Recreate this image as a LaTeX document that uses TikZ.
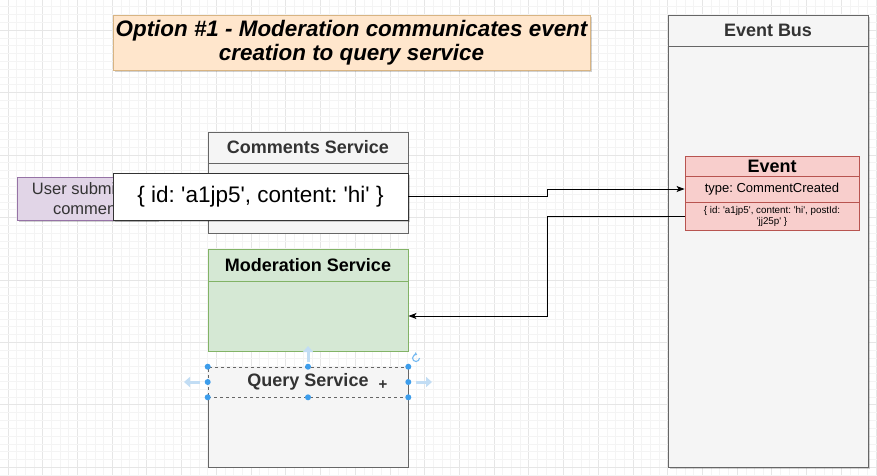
\documentclass[tikz,border=0pt]{standalone}
\usepackage{fontspec}
\setmainfont{Liberation Sans}[Ligatures=TeXOff]
\usetikzlibrary{arrows.meta,shadows,calc}
\definecolor{gridmin}{HTML}{F4F4F4}
\definecolor{gridmaj}{HTML}{E6E6E6}
\definecolor{grayfill}{HTML}{F5F5F5}
\definecolor{graydraw}{HTML}{666666}
\definecolor{graytext}{HTML}{333333}
\definecolor{greenfill}{HTML}{D5E8D4}
\definecolor{greendraw}{HTML}{82B366}
\definecolor{redfill}{HTML}{F8CECC}
\definecolor{reddraw}{HTML}{B85450}
\definecolor{purplefill}{HTML}{E1D5E7}
\definecolor{purpledraw}{HTML}{9673A6}
\definecolor{orangefill}{HTML}{FFE6CC}
\definecolor{orangedraw}{HTML}{D8B482}
\definecolor{handleblue}{HTML}{3D9DEB}
\definecolor{hintblue}{HTML}{C2DDF4}
\frenchspacing
\tikzset{
  box/.style={draw, rectangle, inner sep=0pt, line width=0.9pt},
  graybox/.style={box, fill=grayfill, draw=graydraw},
  greenbox/.style={box, fill=greenfill, draw=greendraw},
  redbox/.style={box, fill=redfill, draw=reddraw},
  hdr/.style={font=\fontsize{18}{20}\selectfont\bfseries},
  shade/.style={drop shadow={shadow xshift=2pt, shadow yshift=-2pt, fill=black, opacity=0.18}},
  conn/.style={draw=black, line width=0.9pt, -{Stealth[length=8pt,width=6pt,inset=2pt]}},
  handle/.style={fill=handleblue, draw=none, circle, inner sep=0pt, minimum size=6pt},
  hint/.style={draw=hintblue, line width=3pt, -{Triangle[length=6pt,width=10pt]}}
}
\begin{document}
\begin{tikzpicture}[x=1pt,y=-1pt]
\useasboundingbox (0,0) rectangle (877,475);
\fill[white] (0,0) rectangle (877,475);
% grid
\foreach \i in {0,...,101}{
  \pgfmathsetmacro\xx{8+8.68*\i}
  \pgfmathtruncatemacro\m{mod(\i,4)}
  \ifnum\m=0 \draw[gridmaj, line width=0.8pt] (\xx,0) -- (\xx,475);
  \else \draw[gridmin, line width=0.6pt] (\xx,0) -- (\xx,475); \fi
}
\foreach \j in {0,...,61}{
  \pgfmathsetmacro\yy{-1.24+7.81*\j}
  \pgfmathtruncatemacro\m{mod(\j+4,8)}
  \ifnum\m=0 \draw[gridmaj, line width=0.8pt] (0,\yy) -- (877,\yy);
  \else \draw[gridmin, line width=0.6pt] (0,\yy) -- (877,\yy); \fi
}

% title
\node[box, shade, fill=orangefill, draw=orangedraw, minimum width=477pt, minimum height=55pt,
  align=center, font=\fontsize{22.4}{24}\selectfont\bfseries\itshape] (title) at (351.5,42.5)
  {Option \#1 - Moderation communicates event\\creation to query service};

% event bus
\node[graybox, shade, minimum width=200pt, minimum height=452pt] (bus) at (768,241) {};
\node[graybox, minimum width=200pt, minimum height=31pt, hdr, text=graytext] (bushead) at (768,30.5) {Event Bus};

% event
\node[redbox, minimum width=174pt, minimum height=20pt, hdr] (evhead) at (772,166) {Event};
\node[redbox, minimum width=174pt, minimum height=26pt, font=\fontsize{13}{15}\selectfont] (evtype) at (772,189) {type: CommentCreated};
\node[redbox, minimum width=174pt, minimum height=28pt, align=center, font=\fontsize{9.8}{11}\selectfont] (evdata) at (772,216) {\{ id: 'a1jp5', content: 'hi', postId:\\'jj25p' \}};

% comments service
\node[graybox, minimum width=200pt, minimum height=101pt] (comments) at (308,182.5) {};
\node[graybox, minimum width=200pt, minimum height=31pt, hdr, text=graytext] (commhead) at (308,147.5) {Comments Service};

% user box
\node[box, shade, fill=purplefill, draw=purpledraw, minimum width=140pt, minimum height=43pt,
  align=center, font=\fontsize{16.5}{20}\selectfont, text=graytext] (user) at (87,198.5) {User submits a\\comment};

% payload
\node[box, shade, fill=white, draw=black!80, minimum width=295pt, minimum height=47pt,
  font=\fontsize{22.5}{26}\selectfont] (payload) at (260.5,196.5) {\{ id: 'a1jp5', content: 'hi' \}};

% moderation service
\node[greenbox, minimum width=200pt, minimum height=70pt] (modbody) at (308,316) {};
\node[greenbox, minimum width=200pt, minimum height=32pt, hdr] (modhead) at (308,265) {Moderation Service};

% query service
\node[graybox, minimum width=200pt, minimum height=100pt] (query) at (308,417) {};
\node[box, fill=grayfill, draw=graydraw, dashed, line width=0.6pt, minimum width=200pt, minimum height=30pt, hdr, text=graytext] (queryhead) at (308,382) {Query Service};

% selection handles
\foreach \a in {north west, north, north east, west, east, south west, south, south east}
  \node[handle] at (queryhead.\a) {};
\draw[hint] (308,362) -- (308,346);
\draw[hint] (200,382) -- (184,382);
\draw[hint] (416,382) -- (432,382);
\draw[handleblue!70, line width=1.1pt, -{Triangle[length=2.5pt,width=3.5pt]}] (419.5,358) arc[start angle=0, end angle=-290, radius=3.5pt];
\node[font=\fontsize{15}{15}\selectfont\bfseries, text=graytext] at (383,385) {+};

% connectors
\coordinate (mid) at (547,0);
\draw[conn] (payload.east) -- (payload.east -| mid) |- (evtype.west);
\draw[conn] (evdata.west) -- (evdata.west -| mid) |- (modbody.east);
\end{tikzpicture}
\end{document}
